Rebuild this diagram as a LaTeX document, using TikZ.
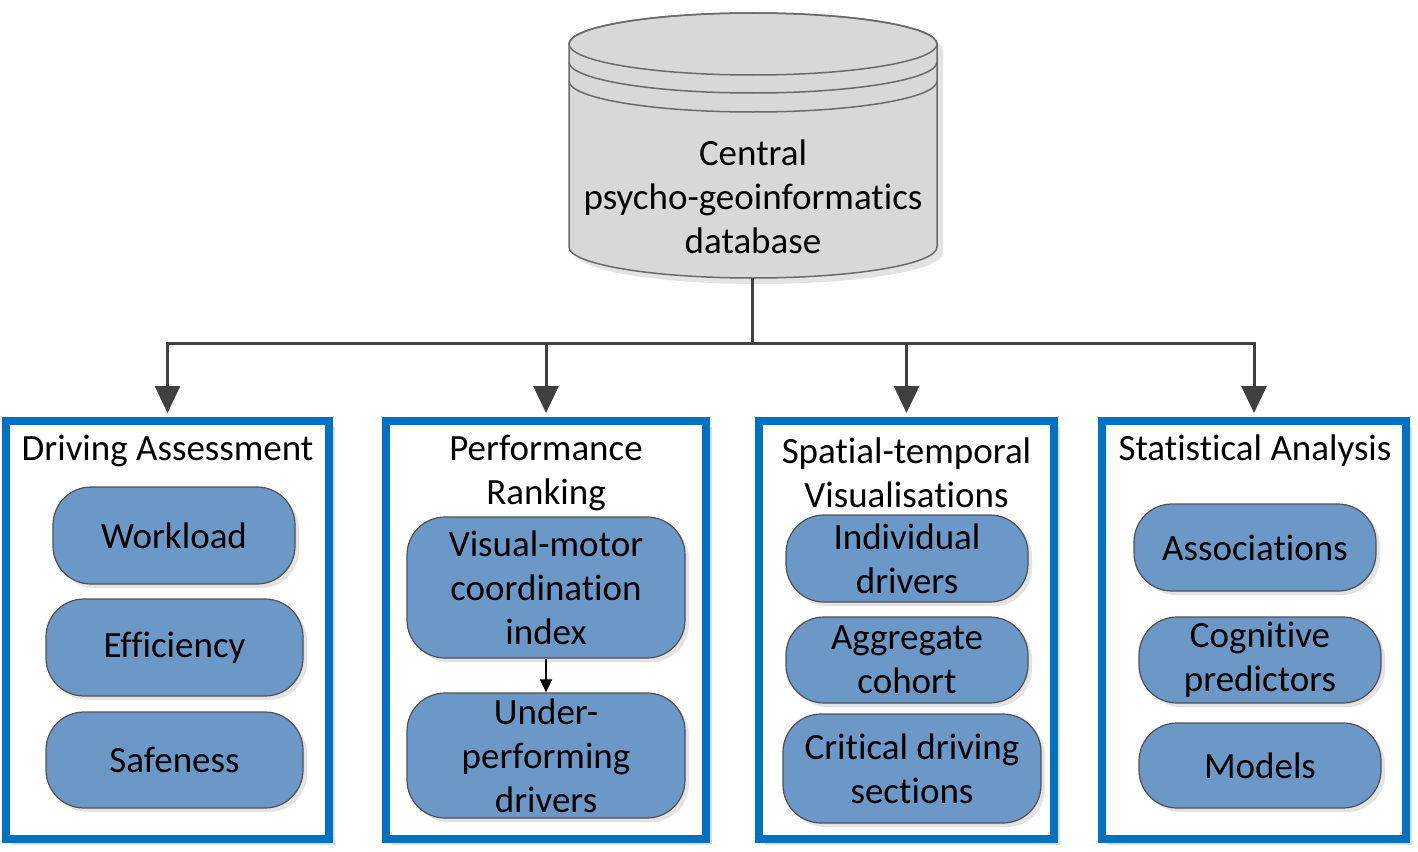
\documentclass[tikz,border=0pt]{standalone}
\usepackage{fontspec}
\setmainfont[Ligatures={NoCommon}]{Carlito}
\usetikzlibrary{arrows.meta,shadows}
\definecolor{panelblue}{HTML}{0070C0}
\definecolor{itemblue}{HTML}{6C98C8}
\definecolor{itemline}{HTML}{505050}
\definecolor{dbfill}{HTML}{D8D8D8}
\definecolor{dbline}{HTML}{6A6A6A}
\definecolor{arrowgray}{HTML}{404040}
\begin{document}
\begin{tikzpicture}[x=1pt,y=-1pt,
  txt/.style={font=\fontsize{37}{44}\selectfont, align=center, inner sep=0pt, text=black},
  panel/.style={draw=panelblue, line width=8pt, fill=white,
    drop shadow={shadow xshift=6pt, shadow yshift=-6pt, opacity=0.22, fill=black!60}},
  item/.style={txt, draw=itemline, line width=1.2pt, fill=itemblue, rounded corners=38pt,
    drop shadow={shadow xshift=4pt, shadow yshift=-4pt, opacity=0.18, fill=black!60}},
  feed/.style={draw=arrowgray, line width=3pt, -{Triangle[length=27pt,width=25pt]}, shorten >=4pt},
  stem/.style={draw=arrowgray, line width=3pt},
  link/.style={draw=black, line width=1.5pt, -{Triangle[length=13pt,width=12pt]}},
  dbshape/.style={fill=dbfill, draw=dbline, line width=1.5pt},
  dbrim/.style={draw=dbline, line width=1.5pt}
]
\useasboundingbox (0,0) rectangle (1418,851);

% database cylinder
\path[dbshape, drop shadow={shadow xshift=6pt, shadow yshift=-6pt, opacity=0.18, fill=black!60}]
  (569,44) -- (569,247)
  arc[start angle=180, end angle=360, x radius=184pt, y radius=31pt]
  -- (937,44)
  arc[start angle=0, end angle=180, x radius=184pt, y radius=31pt] -- cycle;
\draw[dbrim] (753,44) ellipse [x radius=184pt, y radius=31pt];
\draw[dbrim] (569,62) arc[start angle=180, end angle=360, x radius=184pt, y radius=31pt];
\draw[dbrim] (569,81) arc[start angle=180, end angle=360, x radius=184pt, y radius=31pt];
\node[txt] (db) at (753,197) {Central\\psycho-geoinformatics\\database};
\coordinate (dbbottom) at (752,278);
\coordinate (hub) at (752,343);

% panels
\node[panel, minimum width=323pt, minimum height=418pt] (p1) at (167.5,630) {};
\node[panel, minimum width=320pt, minimum height=418pt] (p2) at (546,630) {};
\node[panel, minimum width=295pt, minimum height=418pt] (p3) at (906.5,630) {};
\node[panel, minimum width=304pt, minimum height=418pt] (p4) at (1254,630) {};

% titles
\node[txt] (t1) at (167.5,451) {Driving Assessment};
\node[txt] (t2) at (546,473) {Performance\\Ranking};
\node[txt] (t3) at (906.5,473) {Spatial-temporal\\Visualisations};
\node[txt] (t4) at (1255,451) {Statistical Analysis};

% items panel 1
\node[item, minimum width=242pt, minimum height=97pt] (wl) at (174,535.5) {Workload};
\node[item, minimum width=257pt, minimum height=97pt] (ef) at (174.5,647.5) {Efficiency};
\node[item, minimum width=257pt, minimum height=96pt] (sf) at (174.5,760) {Safeness};

% items panel 2
\node[item, minimum width=278pt, minimum height=141pt] (vm) at (546,587.5) {Visual-motor\\coordination\\index};
\node[item, minimum width=278pt, minimum height=125pt] (up) at (546,755.5) {Under-\\performing\\drivers};

% items panel 3
\node[item, minimum width=242pt, minimum height=87pt] (id) at (907,558.5) {Individual\\drivers};
\node[item, minimum width=242pt, minimum height=86pt] (ag) at (907,660) {Aggregate\\cohort};
\node[item, minimum width=258pt, minimum height=109pt] (cd) at (912,768.5) {Critical driving\\sections};

% items panel 4
\node[item, minimum width=242pt, minimum height=87pt] (as) at (1255,547.5) {Associations};
\node[item, minimum width=242pt, minimum height=86pt] (cp) at (1260,660) {Cognitive\\predictors};
\node[item, minimum width=242pt, minimum height=85pt] (md) at (1260,765.5) {Models};

% connectors
\draw[stem] (dbbottom) -- (hub);
\draw[feed] (hub) -| (p1.north);
\draw[feed] (hub) -| (p2.north);
\draw[feed] (hub) -| (p3.north);
\draw[feed] (hub) -| (p4.north);
\draw[link] (vm.south) -- (up.north);
\end{tikzpicture}
\end{document}
